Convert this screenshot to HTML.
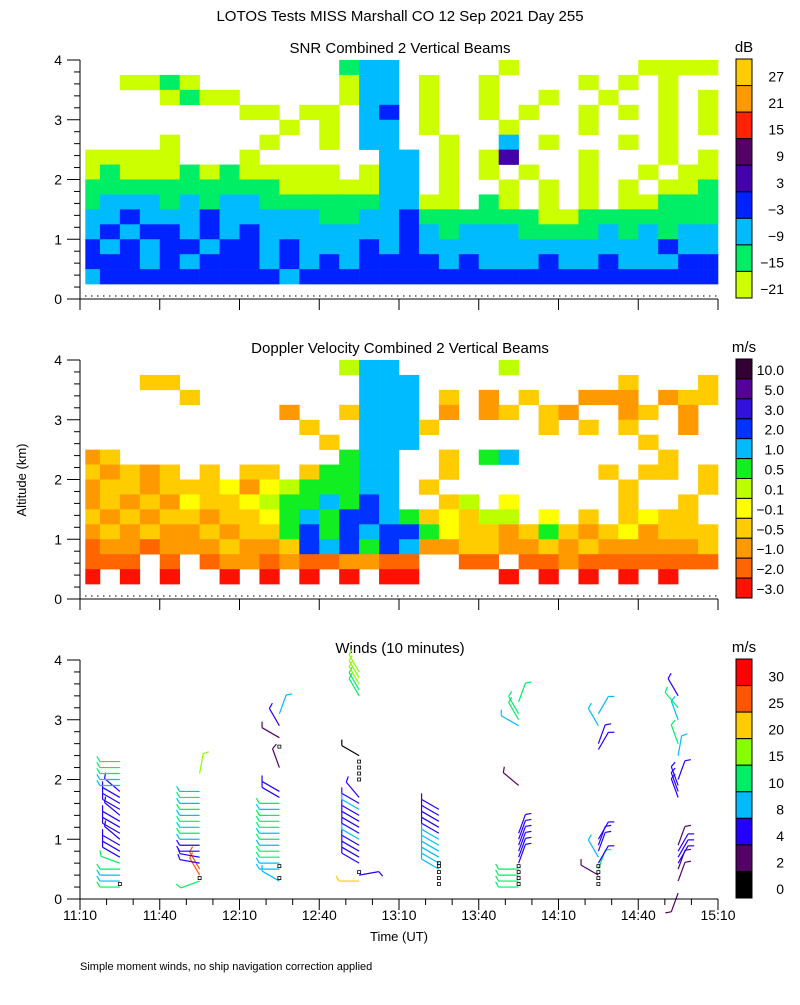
<!DOCTYPE html>
<html><head><meta charset="utf-8"><style>
body{margin:0;background:#fff;}
svg text{font-family:"Liberation Sans",sans-serif;fill:#000;}
</style></head><body>
<svg id="chart" width="800" height="1000" xmlns="http://www.w3.org/2000/svg">
<rect width="800" height="1000" fill="#fff"/>
<text x="400" y="21" font-size="15" text-anchor="middle">LOTOS Tests MISS Marshall CO  12 Sep 2021 Day 255</text>
<text x="400" y="53" font-size="15" text-anchor="middle">SNR Combined 2 Vertical Beams</text>
<text x="400" y="353" font-size="15" text-anchor="middle">Doppler Velocity Combined 2 Vertical Beams</text>
<text x="400" y="653" font-size="15" text-anchor="middle">Winds (10 minutes)</text>
<text x="26" y="480" font-size="13" text-anchor="middle" transform="rotate(-90 26 480)">Altitude (km)</text>
<text x="399" y="941" font-size="13" text-anchor="middle">Time (UT)</text>
<text x="80" y="970" font-size="11">Simple moment winds, no ship navigation correction applied</text>
<g id="layer"></g>
</svg>
<script>
// ---- data ----
const altTicks = ["0","1","2","3","4"];
const timeLabels = ["11:10","11:40","12:10","12:40","13:10","13:40","14:10","14:40","15:10"];
const snrLevels = ["27","21","15","9","3","−3","−9","−15","−21"];
const dopLevels = ["10.0","5.0","3.0","2.0","1.0","0.5","0.1","−0.1","−0.5","−1.0","−2.0","−3.0"];
const windLevels = ["30","25","20","15","10","8","4","2","0"];
// SNR grid: rows top (3.75-4 km) to bottom (0.25-0.5 km), 32 time columns of 7.5 min
const snrGrid = [
".............bcc.....a......aaaa",
"..aaba.......acc.a..a....a.a.a..",
"....abaa.....acc.a..a..a..a..a.a",
"........aa.aa.cd.a..a.a..a.a.a.a",
"..........a.a.cc.a...a...a...a.a",
"....a....a..a.cc..a..c.a...a.a..",
"aaaaa...a......cc.a.ae...a...a.a",
"abaaababaaaaa.acc.a.a.a..a..a.aa",
"bbbbbbbbbbaaaaacc.a..a.a.a.a.aab",
"bcccbcbccbbbbbbccaa.ba.a.a.aabbb",
"ccdcccdcccccbbccdbbbbbbaabbbbbbb",
"cdcddcdcdcccccccdcbcccbbbbcbcbcc",
"dcdcddcddcdcccdcdccccccccccccdcc",
"dddcdcdddcdcdcddddcdcccdccdcccdd",
"cdddddddddcddddddddddddddddddddd"];
// Doppler grid: A=-3 (red) ... L=10 (dark purple)
const dopGrid = [
".............FHH.....F..........",
"...DD.........HHH..........D...DC",
".....D........HHH.D.C.D..CCC.CDDC",
"..........C..DHHH.C.CD.DC..CD.C.D",
"...........D..HHHD.....D.D.D..C..",
"............D.HHH...........D....",
"CD...........GHH..D.GH.......D...",
"DCDCD.D.DD.DGGHH..D.......D.DD.DC",
"CDDCDDDECEFGGGHH.D.........D...DC",
"CDCDCEDDEFGGHGIH..DF.E.....D..D.",
"DCDCDDCDDEGHGIIHGDEDFF.E.D.DEDD.",
"CDCDCCDCDDGIGIHIIGEDDCDGDCDECDDD",
"BCCBCCCDCCDIHIGIHCCDDCCDCDCCCCCD",
"BBB.B.BCCBCBBCCBB..BB.BBCBBBBBBB",
"A.A.A..A.A.A.A.AA....A.A.A.A.A.."];
// winds: group times (minutes after 11:10), altitudes (km), speeds (m/s), staff directions (deg, 270 = left)
const windTimes = [15,45,75,105,135,165,195,225];
const windAlts = [
[0.2,0.3,0.4,0.5,0.6,0.7,0.8,0.9,1.0,1.1,1.2,1.3,1.4,1.5,1.6,1.7,1.8,1.9,2.0,2.1,2.2,2.3],
[0.3,0.4,0.5,0.6,0.7,0.8,0.9,1.0,1.1,1.2,1.3,1.4,1.5,1.6,1.7,1.8,2.1],
[0.3,0.5,0.6,0.7,0.8,0.9,1.0,1.1,1.2,1.3,1.4,1.5,1.6,1.7,1.8,2.2,2.7,2.9,3.1],
[0.3,0.4,0.6,0.7,0.8,0.9,1.0,1.1,1.2,1.3,1.4,1.5,1.6,1.7,2.4,3.4,3.5,3.6,3.7,3.8],
[0.5,0.6,0.7,0.8,0.9,1.0,1.1,1.2,1.3,1.4,1.5],
[0.2,0.3,0.4,0.5,0.6,0.7,0.8,0.9,1.0,1.1,1.9,2.9,3.0,3.1,3.3],
[0.4,0.5,0.6,0.7,0.8,0.9,1.0,2.5,2.6,2.9,3.1],
[0.1,0.3,0.5,0.6,0.7,0.8,0.9,1.7,1.8,1.9,2.0,2.4,2.6,3.0,3.2,3.4]];
const windSpd = [
[12,9,9,12,12,5,5,5,5,6,6,6,5,5,6,6,5,9,9,12,12,12],
[12,26,27,6,6,5,5,9,12,9,12,9,12,9,12,9,17],
[9,9,9,12,12,9,12,9,12,12,12,9,12,6,6,3,3,6,9],
[22,6,6,6,5,6,9,6,5,6,6,9,6,5,1,12,12,17,17,17],
[9,9,9,9,9,9,6,6,6,6,6],
[12,12,12,13,6,6,5,5,5,6,3,9,12,12,12],
[3,12,6,9,5,6,5,4,5,9,9],
[3,3,3,5,5,5,3,5,5,5,5,9,12,9,12,5]];
const windDir = [
[270,270,270,270,290,300,300,300,310,300,300,300,310,300,300,300,310,270,270,270,270,270],
[250,330,330,280,280,270,270,270,270,270,270,270,270,270,270,270,10],
[300,270,270,270,270,270,270,270,270,270,270,270,270,300,300,340,300,330,20],
[270,80,300,300,300,300,300,300,300,300,300,300,300,320,300,330,330,330,330,330],
[300,300,300,300,300,300,300,300,300,300,300],
[270,270,270,270,20,20,20,20,20,20,310,300,330,330,20],
[300,20,30,330,20,20,30,30,20,330,30],
[200,20,20,30,30,30,20,340,340,340,20,10,340,340,320,330]];
const missingT = [15,45,75,75,75,105,105,105,105,105,135,135,135,135,135,165,165,165,165,195,195,195,195];
const missingA = [0.25,0.35,0.35,0.55,2.55,0.45,2.0,2.1,2.2,2.3,0.25,0.35,0.45,0.55,0.6,0.25,0.35,0.45,0.55,0.25,0.35,0.45,0.55];
// ---- drawing ----
const NS="http://www.w3.org/2000/svg";
const layer=document.getElementById('layer');
const X0=80,X1=718,PXK=59.75;
const bases=[299,599,899];
const xT=m=>X0+m*(X1-X0)/240;
const yA=(k,p)=>bases[p]-k*PXK;
const snrCol={a:"#ccff00",b:"#00ee66",c:"#00bbff",d:"#0022ff",e:"#4400aa",f:"#550066",g:"#ff2200",h:"#ff9900",i:"#ffcc00"};
const snrBar=["#ffcc00","#ff9900","#ff2200","#550066","#4400aa","#0022ff","#00bbff","#00ee66","#ccff00"];
const dopBar=["#330033","#550099","#3311dd","#0033ff","#00bbff","#11ee22","#bbff00","#ffff00","#ffcc00","#ff9900","#ff6600","#ff1100"];
const dopCol={};"LKJIHGFEDCBA".split("").forEach((c,i)=>dopCol[c]=dopBar[i]);
const windBar=["#ff0000","#ff5500","#ffcc00","#88ff00","#00ee66","#00bbff","#2200ff","#550066","#000000"];
const windEdges=[30,25,20,15,10,8,4,2,0];
function wcol(s){for(let i=0;i<windEdges.length;i++){if(s>=windEdges[i])return windBar[i];}return "#000";}
function mk(tag,attrs,parent){const e=document.createElementNS(NS,tag);for(const k in attrs)e.setAttribute(k,attrs[k]);(parent||layer).appendChild(e);return e;}

function drawGrid(grid,cmap,p,name){
  const g=mk('g',{});
  
  
  const nr=grid.length,nc=32,dt=240/nc,dk=3.75/nr;
  grid.forEach((row,r)=>{
    for(let c=0;c<nc;c++){
      const ch=row[c]||'.';
      if(!cmap[ch])continue;
      const k1=4-r*dk,k0=k1-dk;
      const x=xT(c*dt+(c===0?2:0)),w=xT((c+1)*dt)-x;
      const rc=mk('rect',{x:x,y:yA(k1,p),width:w+0.3,height:yA(k0,p)-yA(k1,p)+0.3,fill:cmap[ch]},g);
      
      
    }
  });
}
drawGrid(snrGrid,snrCol,0,'snr-heatmap');
drawGrid(dopGrid,dopCol,1,'doppler-heatmap');

// winds
const wg=mk('g',{});


windTimes.forEach((t,gi)=>{
  windAlts[gi].forEach((a,j)=>{
    const s=windSpd[gi][j],d=windDir[gi][j]*Math.PI/180,L=20;
    const x0=xT(t),y0=yA(a,2);
    const x1=x0+Math.sin(d)*L,y1=y0-Math.cos(d)*L;
    const c=wcol(s);
    const ln=mk('line',{x1:x0,y1:y0,x2:x1,y2:y1,stroke:c,'stroke-width':1.2},wg);
    
    
    const bd=d+Math.PI/3,bl=6;
    const tk=mk('line',{x1:x1,y1:y1,x2:x1+Math.sin(bd)*bl,y2:y1-Math.cos(bd)*bl,stroke:c,'stroke-width':1.2},wg);
    
    
  });
});
missingT.forEach((t,i)=>{
  const r=mk('rect',{x:xT(t)-1.5,y:yA(missingA[i],2)-1.5,width:3,height:3,fill:'none',stroke:'#000','stroke-width':0.8},wg);
  
  
});

// axes
[0,1,2].forEach(p=>{
  const ax=mk('g',{stroke:'#000','stroke-width':1,fill:'none'});
  
  
  const b=bases[p];
  mk('line',{x1:X0,y1:b,x2:X0,y2:yA(4,p)},ax);
  mk('line',{x1:X0,y1:b,x2:X1,y2:b},ax);
  for(let i=0;i<=20;i++){const y=yA(i*0.2,p);mk('line',{x1:i%5===0?X0-13:X0-6,y1:y,x2:X0,y2:y},ax);}
  timeLabels.forEach((lb,i)=>{const x=xT(i*30);mk('line',{x1:x,y1:b,x2:x,y2:b+11},ax);
    if(p===2&&i<8){for(let m=1;m<3;m++){const xm=xT(i*30+m*10);mk('line',{x1:xm,y1:b,x2:xm,y2:b+6},ax);}}
    if(p===2){const tx=mk('text',{x:x,y:b+21,'font-size':14,'text-anchor':'middle',stroke:'none',fill:'#000'});tx.textContent=lb;
      
      }
  });
  altTicks.forEach((lb,i)=>{const tx=mk('text',{x:62,y:yA(i,p)+5,'font-size':14,'text-anchor':'end',stroke:'none',fill:'#000'});tx.textContent=lb;
    
    });
  if(p<2){const dl=mk('line',{x1:X0+5,y1:b-3,x2:X1,y2:b-3,stroke:'#000','stroke-dasharray':'1.5,4.5'},ax);
    
    }
});

// colorbars
function cbar(cols,labels,top,bot,unit,name){
  const g=mk('g',{});
  
  
  const h=(bot-top)/cols.length;
  cols.forEach((c,i)=>{const r=mk('rect',{x:736,y:top+i*h,width:16,height:h,fill:c,stroke:'#000','stroke-width':1},g);
    
    
    const t=mk('text',{x:784,y:top+(i+1)*h-4,'font-size':14,'text-anchor':'end'},g);t.textContent=labels[i];
    
    });
  const u=mk('text',{x:744,y:top-7,'font-size':15,'text-anchor':'middle'},g);u.textContent=unit;
  
  
}
cbar(snrBar,snrLevels,59,298,'dB','snr-colorbar');
cbar(dopBar,dopLevels,359,598,'m/s','doppler-colorbar');
cbar(windBar,windLevels,659,898,'m/s','wind-colorbar');
</script>
</body></html>
